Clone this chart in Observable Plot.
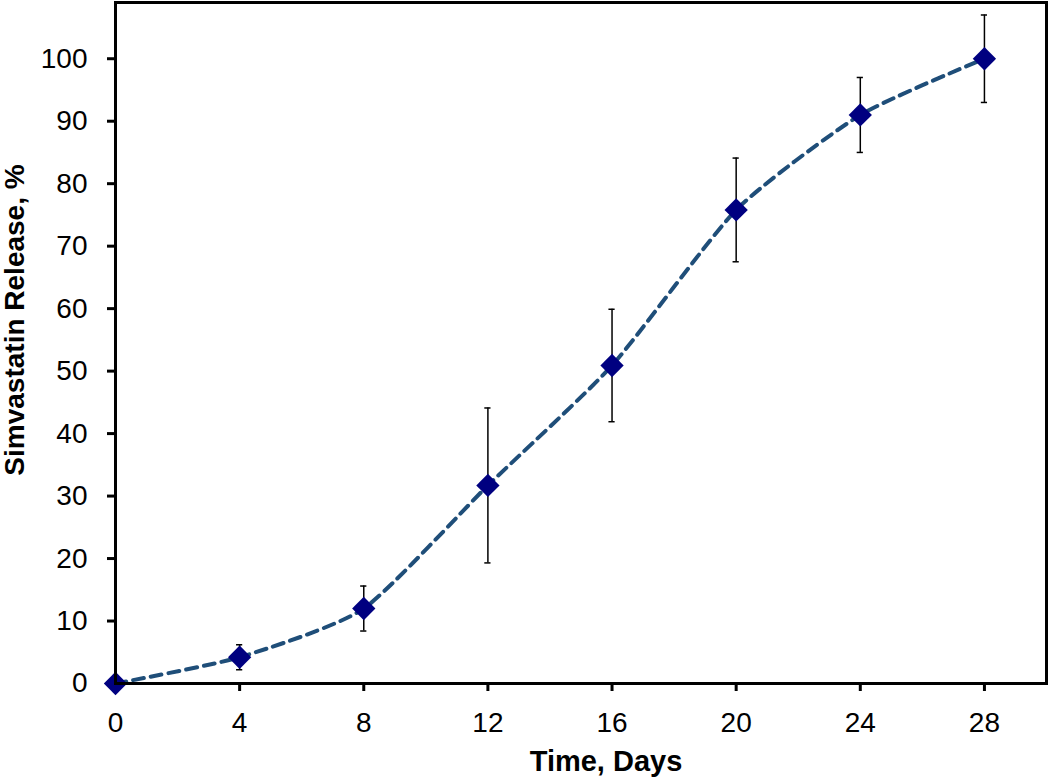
<!DOCTYPE html>
<html>
<head>
<meta charset="utf-8">
<script src="https://cdn.jsdelivr.net/npm/d3@7"></script>
<script src="https://cdn.jsdelivr.net/npm/@observablehq/plot@0.6"></script>
<style>
  html, body { margin: 0; padding: 0; background: #fff; }
  #chart svg { display: block; }
</style>
</head>
<body>
<div id="chart"></div>
<script>
const days = [0, 4, 8, 12, 16, 20, 24, 28];
const release = [0, 4.2, 12, 31.7, 50.9, 75.8, 91, 100];
const errors = [0, 2, 3.6, 12.4, 9, 8.3, 6, 7];
const xTicks = [0, 4, 8, 12, 16, 20, 24, 28];
const yTicks = [0, 10, 20, 30, 40, 50, 60, 70, 80, 90, 100];
const xTitle = "Time, Days";
const yTitle = "Simvastatin Release, %";

const data = days.map((d, i) => ({day: d, value: release[i], err: errors[i]}));
const withErr = data.filter(d => d.err > 0);
const capHalf = 0.1;

const chart = Plot.plot({
  width: 1050,
  height: 780,
  marginLeft: 115,
  marginRight: 4,
  marginTop: 2,
  marginBottom: 97,
  style: {fontFamily: "'Liberation Sans', Arial, sans-serif", background: "#fff", color: "#000"},
  x: {domain: [0, 30]},
  y: {domain: [0, 109]},
  marks: [
    Plot.axisX({ticks: xTicks, tickSize: 8, tickPadding: 21, fontSize: 28, strokeWidth: 3, label: null}),
    Plot.axisY({ticks: yTicks, tickSize: 8, tickPadding: 20, fontSize: 28, strokeWidth: 3, label: null}),
    Plot.ruleX(withErr, {x: "day", y1: d => d.value - d.err, y2: d => d.value + d.err, stroke: "#000", strokeWidth: 1.5}),
    Plot.ruleY(withErr, {y: d => d.value + d.err, x1: d => d.day - capHalf, x2: d => d.day + capHalf, stroke: "#000", strokeWidth: 1.5}),
    Plot.ruleY(withErr, {y: d => d.value - d.err, x1: d => d.day - capHalf, x2: d => d.day + capHalf, stroke: "#000", strokeWidth: 1.5}),
    Plot.line(data, {x: "day", y: "value", curve: "cardinal", tension: 0.4, stroke: "#1F4E79", strokeWidth: 4, strokeDasharray: "11,7"}),
    Plot.dot(data, {x: "day", y: "value", symbol: "diamond2", r: 10.5, fill: "#000080", stroke: "none"}),
    Plot.frame({stroke: "#000", strokeWidth: 3}),
    Plot.text([xTitle], {text: d => d, frameAnchor: "bottom", dx: 25, dy: 78, lineAnchor: "middle", fontSize: 29, fontWeight: "bold", fill: "#000"}),
    Plot.text([yTitle], {text: d => d, frameAnchor: "left", dx: -100, dy: -23, rotate: -90, lineAnchor: "middle", textAnchor: "middle", fontSize: 28, fontWeight: "bold", fill: "#000"})
  ]
});
document.getElementById("chart").appendChild(chart);
</script>
</body>
</html>
